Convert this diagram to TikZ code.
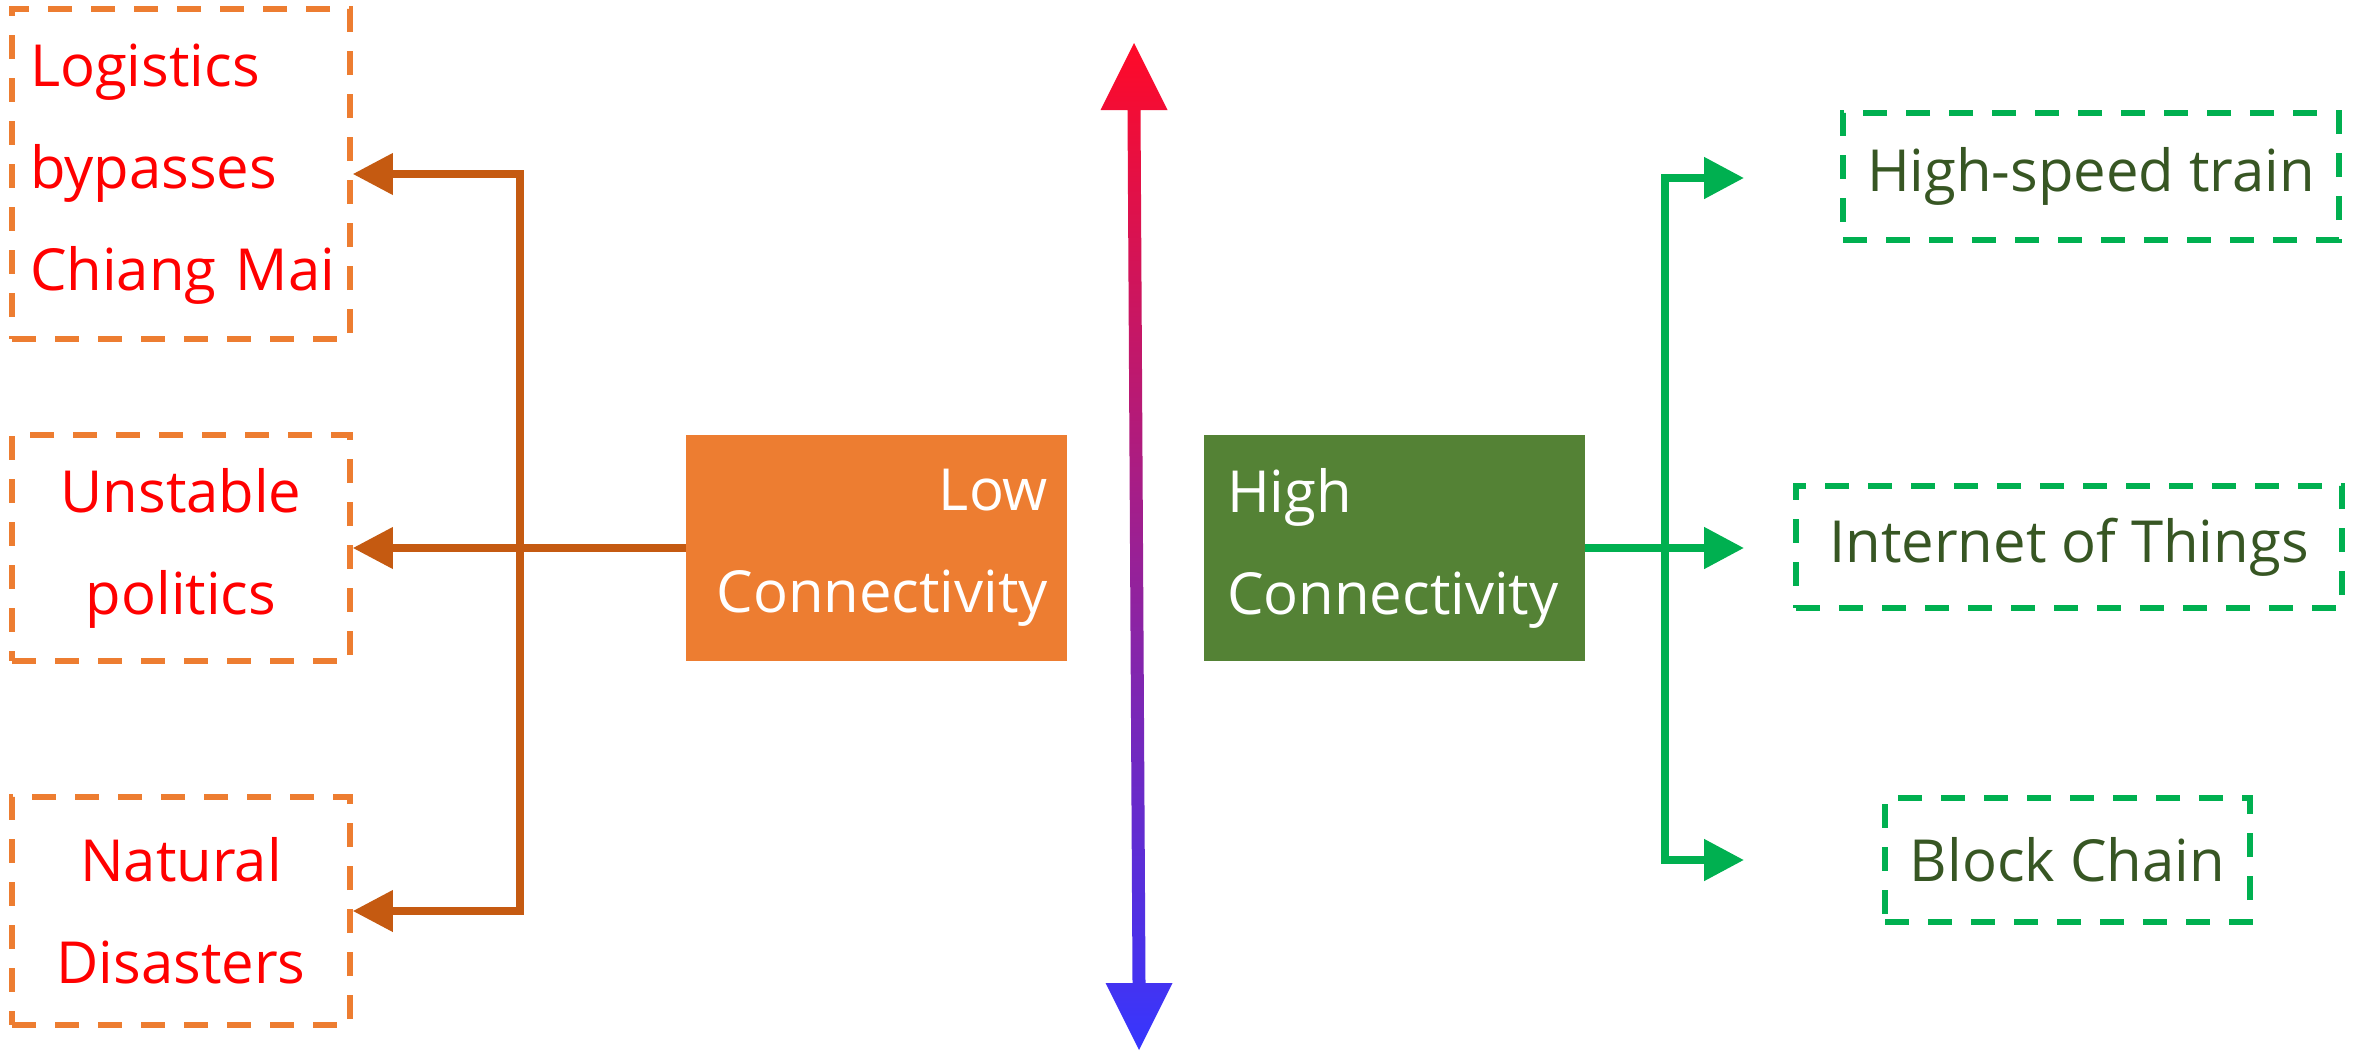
\documentclass[tikz,border=0pt]{standalone}
\usepackage{fontspec}
\setmainfont{Open Sans}
\usetikzlibrary{arrows.meta,calc}
\definecolor{orfill}{HTML}{ED7D31}
\definecolor{orline}{HTML}{C55A11}
\definecolor{grfill}{HTML}{548235}
\definecolor{grline}{HTML}{00B050}
\definecolor{grtext}{HTML}{375623}
\definecolor{redtext}{HTML}{FF0000}
\definecolor{axtop}{HTML}{FF0A28}
\definecolor{axbot}{HTML}{3636FF}
\begin{document}
\begin{tikzpicture}[x=0.5pt,y=-0.5pt,
  >={Triangle[length=20pt,width=20pt]},
  txt/.style={font=\fontsize{29}{51}\selectfont},
  obox/.style={txt, draw=orfill, dash pattern=on 12pt off 9.5pt, line width=2.8pt, text=redtext, inner sep=0pt},
  gbox/.style={txt, draw=grline, dash pattern=on 12pt off 9.5pt, line width=2.8pt, text=grtext, inner sep=0pt},
  fbox/.style={txt, text=white, inner ysep=0pt, minimum width=190.5pt, minimum height=113pt},
  oline/.style={draw=orline, line width=3.6pt, line join=miter},
  gline/.style={draw=grline, line width=4pt, line join=miter}
]
\useasboundingbox (0,0) rectangle (2354,1050);

% left boxes
\node[obox, minimum width=169pt, minimum height=165pt, inner xsep=9pt, text width=151pt, align=left] (b1) at (181,174) {Logistics\\bypasses\\Chiang~Mai};
\node[obox, minimum width=169pt, minimum height=113pt, align=center] (b2) at (181,548) {Unstable\\politics};
\node[obox, minimum width=169pt, minimum height=114pt, align=center] (b3) at (181,911) {Natural\\Disasters};

% centre boxes
\node[fbox, fill=orfill, inner xsep=9.5pt, text width=171.5pt, align=right] (low) at (876.5,548) {Low\hspace{15.5pt}\\Connectivity};
\node[fbox, fill=grfill, inner xsep=11.5pt, text width=167.5pt, align=left] (high) at (1394.5,548) {High\\Connectivity};

% right boxes
\node[gbox, minimum width=248pt, minimum height=63.5pt] (r1) at (2091,176.5) {High-speed train};
\node[gbox, minimum width=273pt, minimum height=61pt] (r2) at (2069,547) {Internet of Things};
\node[gbox, minimum width=182.5pt, minimum height=62pt] (r3) at (2067.5,860) {Block Chain};

% orange connectors
\coordinate (ox) at (520,0);
\draw[oline, <->] (b1.east) -- (b1.east -| ox) -- (b3.east -| ox) -- (b3.east);
\draw[oline, ->] (low.west) -- (b2.east);

% green connectors
\coordinate (gx) at (1665,0);
\coordinate (e1) at (1744,178);
\coordinate (e2) at (1744,548);
\coordinate (e3) at (1744,860);
\draw[gline, <->] (e1) -- (e1 -| gx) -- (e3 -| gx) -- (e3);
\draw[gline, ->] (high.east) -- (e2);

% central double arrow
\coordinate (axt) at (1134,43);
\coordinate (axb) at (1139,1050);
\shade[top color=axtop, bottom color=axbot]
  (axt) -- ++(33.5,67) -- ++(-27,0) -- ($(axb)+(6.5,-67)$) -- ++(27,0) -- (axb)
  -- ++(-33.5,-67) -- ++(27,0) -- ($(axt)+(-6.5,67)$) -- ++(-27,0) -- cycle;
\end{tikzpicture}
\end{document}
